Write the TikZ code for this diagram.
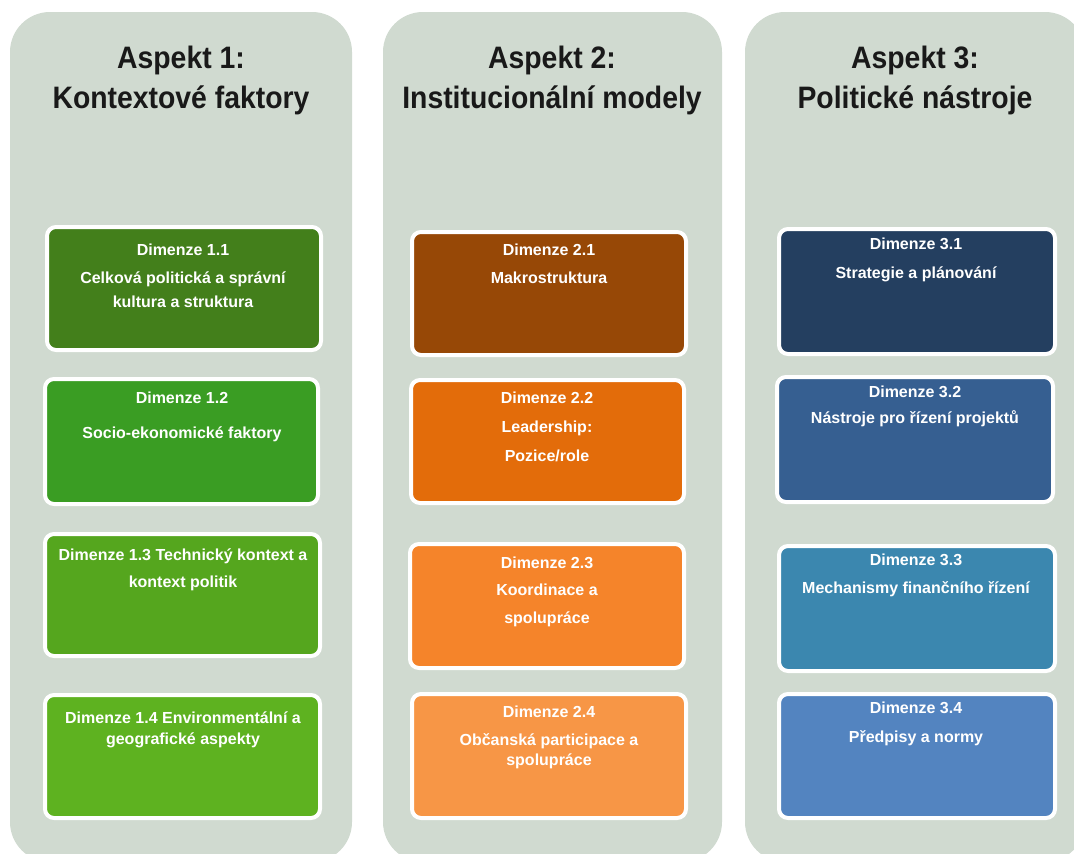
\documentclass[tikz,border=0pt]{standalone}
\usepackage{fontspec}
\setmainfont{Liberation Sans}
\newfontfamily\headfont{Liberation Sans Bold}[FakeStretch=0.915]
\newfontfamily\dimfont{Liberation Sans Bold}
\definecolor{panelbg}{HTML}{D0DAD0}
\definecolor{gA}{HTML}{437F1B}
\definecolor{gB}{HTML}{3A9D23}
\definecolor{gC}{HTML}{55A61E}
\definecolor{gD}{HTML}{5EB220}
\definecolor{oA}{HTML}{974806}
\definecolor{oB}{HTML}{E36C0A}
\definecolor{oC}{HTML}{F5842A}
\definecolor{oD}{HTML}{F79646}
\definecolor{bA}{HTML}{243F60}
\definecolor{bB}{HTML}{365F91}
\definecolor{bC}{HTML}{3B87AF}
\definecolor{bD}{HTML}{5384C0}
\tikzset{
  panel/.style={fill=panelbg, rounded corners=40pt},
  dimbox/.style={draw=white, line width=4pt, rounded corners=9pt, inner sep=0pt},
  head/.style={anchor=north, inner sep=0pt, align=center, text=black!90,
    font=\headfont\fontsize{31}{40}\selectfont},
  dimtext/.style={anchor=north, inner sep=0pt, align=center, text=white}
}
% box given by its outer edges: left, top, right, bottom
\newcommand{\dimbox}[6]{%
  \node[dimbox, fill=#6, minimum width={#3-#1-4}, minimum height={#4-#2-4}]
    (#5) at ({(#1+#3)/2},{(#2+#4)/2}) {};}
% text block: first baseline, line spacing, centre x
\newcommand{\dimlabel}[5]{%
  \node[dimtext, font=\dimfont\fontsize{16}{#3}\selectfont] (#5) at (#1,{#2-12}) {\rule{0pt}{12pt}#4};}
\begin{document}
\begin{tikzpicture}[x=1pt,y=-1pt]
\useasboundingbox (0,0) rectangle (1074,854);
% background panels
\path[panel] (10,12) rectangle (352,862);
\path[panel] (383,12) rectangle (722,862);
\path[panel] (745,12) rectangle (1085,862);
% headings
\node[head] (h1) at (181,{68-23}) {\rule{0pt}{23pt}Aspekt 1:\\Kontextové faktory};
\node[head] (h2) at (552,{68-23}) {\rule{0pt}{23pt}Aspekt 2:\\Institucionální modely};
\node[head] (h3) at (915,{68-23}) {\rule{0pt}{23pt}Aspekt 3:\\Politické nástroje};
% column 1
\dimbox{45}{225}{323}{352}{b11}{gA}
\dimbox{43}{377}{320}{506}{b12}{gB}
\dimbox{43}{532}{322}{658}{b13}{gC}
\dimbox{43}{693}{322}{820}{b14}{gD}
% column 2
\dimbox{410}{230}{688}{357}{b21}{oA}
\dimbox{409}{378}{686}{505}{b22}{oB}
\dimbox{408}{542}{686}{670}{b23}{oC}
\dimbox{410}{692}{688}{820}{b24}{oD}
% column 3
\dimbox{777}{227}{1057}{356}{b31}{bA}
\dimbox{775}{375}{1055}{504}{b32}{bB}
\dimbox{777}{544}{1057}{673}{b33}{bC}
\dimbox{777}{692}{1057}{820}{b34}{bD}
% labels
\dimlabel{183}{255}{24}{Dimenze 1.1\\[4pt]Celková politická a správní\\kultura a struktura}{t11}
\dimlabel{182}{403}{35}{Dimenze 1.2\\Socio-ekonomické faktory}{t12}
\dimlabel{183}{560}{27}{Dimenze 1.3 Technický kontext a\\kontext politik}{t13}
\dimlabel{183}{723}{21}{Dimenze 1.4 Environmentální a\\geografické aspekty}{t14}
\dimlabel{549}{255}{28}{Dimenze 2.1\\Makrostruktura}{t21}
\dimlabel{547}{403}{29}{Dimenze 2.2\\Leadership:\\Pozice/role}{t22}
\dimlabel{547}{568}{27.5}{Dimenze 2.3\\Koordinace a\\spolupráce}{t23}
\dimlabel{549}{717}{20}{Dimenze 2.4\\[8pt]Občanská participace a\\spolupráce}{t24}
\dimlabel{916}{249}{29}{Dimenze 3.1\\Strategie a plánování}{t31}
\dimlabel{915}{397}{26}{Dimenze 3.2\\Nástroje pro řízení projektů}{t32}
\dimlabel{916}{565}{28}{Dimenze 3.3\\Mechanismy finančního řízení}{t33}
\dimlabel{916}{713}{29}{Dimenze 3.4\\Předpisy a normy}{t34}
\end{tikzpicture}
\end{document}
